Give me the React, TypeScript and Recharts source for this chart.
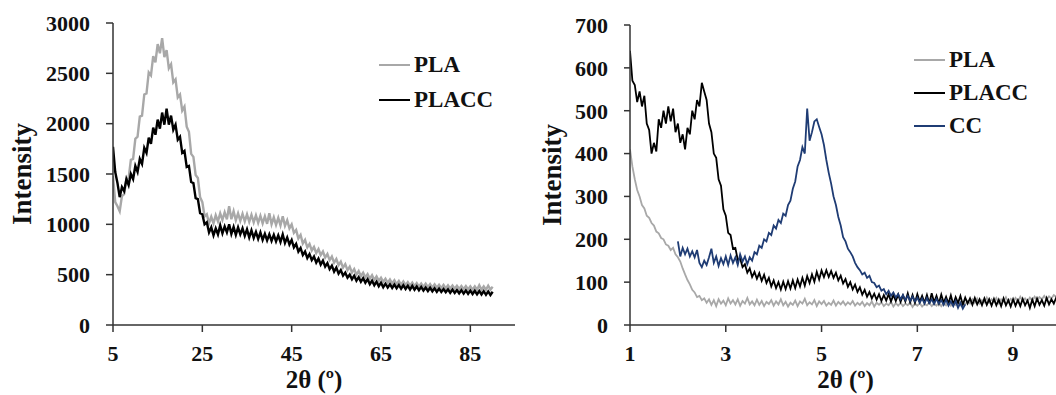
import React from 'react';
import { LineChart, Line, XAxis, YAxis, Legend } from 'recharts';

const FONT = '"Liberation Serif", "Times New Roman", serif';

// ---------- Panel (a): 2θ from 5 to 90, sampled every 0.5 ----------
const A_X_START = 5;
const A_X_STEP = 0.5;
const aPLA = [
  1480, 1220, 1180, 1130, 1280, 1300, 1450, 1460, 1640, 1650,
  1850, 1870, 2070, 2080, 2290, 2300, 2510, 2480, 2670, 2610,
  2790, 2700, 2850, 2660, 2730, 2550, 2590, 2410, 2440, 2260,
  2290, 2130, 2170, 1970, 1920, 1700, 1670, 1490, 1460, 1270,
  1220, 1080, 1100, 1010, 1075, 1010, 1090, 1030, 1110, 1045,
  1120, 1050, 1180, 1050, 1130, 1040, 1110, 1035, 1105, 1030,
  1100, 1025, 1095, 1020, 1090, 1015, 1085, 1010, 1080, 1005,
  1110, 1000, 1070, 995, 1065, 990, 1080, 985, 1040, 960,
  1000, 915, 945, 860, 895, 810, 845, 770, 805, 740,
  775, 715, 755, 695, 730, 670, 705, 645, 680, 620,
  655, 595, 630, 570, 605, 545, 580, 520, 555, 500,
  535, 485, 520, 472, 505, 460, 495, 448, 482, 438,
  470, 428, 460, 420, 452, 412, 445, 405, 438, 400,
  432, 395, 425, 390, 420, 385, 416, 382, 412, 378,
  410, 375, 406, 372, 403, 370, 400, 366, 398, 364,
  395, 362, 392, 360, 390, 358, 388, 356, 386, 354,
  385, 352, 384, 350, 395, 350, 384, 350, 390, 352,
  380,
];
const aPLACC = [
  1770, 1520, 1410, 1270, 1370, 1330, 1450, 1390, 1500, 1450,
  1580, 1520, 1650, 1600, 1760, 1710, 1860, 1800, 1960, 1890,
  2040, 1950, 2110, 1990, 2150, 1990, 2080, 1940, 1990, 1840,
  1870, 1710, 1730, 1570, 1580, 1420, 1410, 1260, 1250, 1110,
  1100, 1000, 1020, 920, 970, 890, 960, 900, 990, 910,
  980, 920, 1000, 905, 975, 895, 970, 900, 960, 885,
  950, 870, 940, 865, 925, 855, 920, 845, 905, 840,
  900, 835, 895, 830, 890, 825, 900, 815, 870, 800,
  845, 770, 805, 730, 765, 695, 730, 665, 705, 645,
  680, 620, 660, 600, 640, 580, 615, 555, 590, 530,
  570, 510, 545, 490, 520, 470, 500, 455, 490, 440,
  475, 430, 465, 420, 455, 405, 440, 395, 430, 385,
  420, 375, 410, 372, 405, 368, 402, 365, 398, 360,
  395, 358, 390, 352, 388, 350, 382, 345, 378, 342,
  372, 338, 370, 335, 365, 330, 362, 328, 358, 325,
  355, 320, 352, 318, 348, 315, 346, 312, 344, 310,
  342, 308, 340, 305, 338, 303, 336, 300, 334, 298,
  330,
];
const aXTicks = [5, 25, 45, 65, 85];
const aYTicks = [0, 500, 1000, 1500, 2000, 2500, 3000];

// ---------- Panel (b): 2θ from 1 to 10, sampled every 0.05 ----------
const B_X_START = 1;
const B_X_STEP = 0.05;
const bPLA = [
  410, 370, 340, 315, 300, 280, 272, 255, 250, 238,
  232, 218, 214, 203, 200, 188, 185, 175, 180, 165,
  158, 148, 132, 118, 105, 95, 82, 76, 65, 68,
  58, 62, 52, 60, 47, 58, 44, 60, 50, 57,
  46, 62, 50, 58, 48, 60, 45, 56, 50, 63,
  48, 55, 46, 59, 47, 56, 44, 54, 49, 58,
  45, 55, 48, 60, 46, 54, 43, 52, 47, 57,
  44, 55, 50, 61, 46, 53, 48, 58, 44, 55,
  49, 56, 45, 52, 47, 57, 45, 54, 48, 55,
  46, 53, 48, 56, 45, 52, 47, 54, 44, 51,
  46, 55, 43, 52, 47, 53, 44, 50, 46, 54,
  43, 51, 45, 52, 44, 50, 46, 53, 42, 50,
  45, 51, 43, 49, 46, 52, 44, 50, 45, 53,
  44, 51, 46, 54, 45, 52, 47, 55, 46, 53,
  48, 56, 50, 60, 52, 62, 50, 58, 53, 64,
  52, 60, 54, 63, 51, 60, 55, 65, 53, 61,
  55, 63, 54, 66, 56, 62, 55, 64, 57, 66,
  58, 65, 60, 68, 59, 67, 62, 70, 66, 75,
  95,
];
const bPLACC = [
  640, 570, 560, 520, 545, 510, 535, 470, 455, 400,
  425, 405, 480, 460, 500, 470, 510, 475, 505, 450,
  470, 425, 445, 410, 460, 445, 500, 480, 525, 510,
  565, 545, 525, 470, 450, 400, 390, 340, 325, 270,
  255, 215, 210, 178, 180, 152, 155, 135, 142, 122,
  132, 112, 124, 108, 121, 103, 117, 98, 110, 90,
  104, 86, 100, 83, 101, 84, 102, 85, 104, 86,
  106, 90, 110, 92, 114, 98, 118, 101, 124, 106,
  127, 112, 128, 112, 126, 110, 122, 104, 115, 97,
  107, 89, 100, 83, 94, 77, 88, 71, 82, 66,
  77, 62, 73, 59, 72, 56, 70, 57, 72, 55,
  70, 56, 71, 54, 69, 55, 74, 53, 70, 52,
  72, 54, 68, 52, 70, 50, 74, 53, 68, 50,
  71, 52, 66, 50, 69, 48, 65, 51, 68, 47,
  64, 50, 62, 47, 63, 48, 60, 46, 62, 47,
  60, 45, 61, 46, 59, 44, 62, 46, 58, 43,
  60, 45, 58, 44, 61, 46, 57, 40, 59, 44,
  62, 47, 58, 45, 63, 48, 60, 50, 64, 52,
  62,
];
const CC_X_START = 2;
const bCC = [
  195, 160, 180, 165, 178, 160, 172, 158, 175, 145,
  135, 150, 140, 158, 178, 145, 160, 138, 156, 142,
  160, 140, 162, 145, 158, 140, 165, 148, 160, 142,
  158, 150, 170, 165, 185, 180, 200, 195, 215, 210,
  232, 225, 245, 238, 260, 255, 280, 290, 318, 335,
  370, 385, 415, 400, 505, 430, 450, 475, 480, 462,
  445, 420, 385, 355, 330, 300, 280, 252, 232, 205,
  195, 178, 170, 160, 145, 135, 128, 118, 122, 110,
  115, 100, 98, 88, 92, 80, 84, 72, 80, 68,
  76, 64, 72, 60, 70, 58, 68, 56, 66, 55,
  64, 52, 62, 50, 63, 51, 60, 49, 61, 50,
  58, 47, 59, 45, 55, 44, 56, 40, 52, 38,
  48,
];
const bXTicks = [1, 3, 5, 7, 9];
const bYTicks = [0, 100, 200, 300, 400, 500, 600, 700];

const SERIES_ORDER = ['PLA', 'PLACC', 'CC'];

const toPoints = (start: number, step: number, values: number[]) =>
  values.map((v, i) => ({ x: Math.round((start + i * step) * 1000) / 1000, y: v }));

const aPLAData = toPoints(A_X_START, A_X_STEP, aPLA);
const aPLACCData = toPoints(A_X_START, A_X_STEP, aPLACC);
const bPLAData = toPoints(B_X_START, B_X_STEP, bPLA);
const bPLACCData = toPoints(B_X_START, B_X_STEP, bPLACC);
const bCCData = toPoints(CC_X_START, B_X_STEP, bCC);

const COLORS = { PLA: '#a8a8a8', PLACC: '#000000', CC: '#1f3c74' };
const AXIS_COLOR = '#333333';

const tickStyle = { fill: '#111', fontSize: 22, fontFamily: FONT, fontWeight: 700 };

const makeLegend = (rowH: number) => (props: any) => {
  const items = [...(props.payload || [])].sort(
    (a: any, b: any) => SERIES_ORDER.indexOf(a.value) - SERIES_ORDER.indexOf(b.value)
  );
  return (
    <div style={{ fontFamily: FONT, fontWeight: 700, fontSize: 23, color: '#111' }}>
      {items.map((e: any) => (
        <div key={e.value} style={{ display: 'flex', alignItems: 'center', height: rowH, whiteSpace: 'nowrap' }}>
          <span style={{ display: 'inline-block', width: 31, height: 2, background: e.color, marginRight: 4 }} />
          <span>{e.value}</span>
        </div>
      ))}
    </div>
  );
};

const yLabel = (props: any) => {
  const vb = props.viewBox || { x: 0, y: 0, width: 0, height: 0 };
  const x = vb.x + 31;
  const y = vb.y + vb.height / 2;
  return (
    <text x={x} y={y} transform={`rotate(-90, ${x}, ${y})`} textAnchor="middle" fill="#111"
      style={{ fontFamily: FONT, fontWeight: 700, fontSize: 27 }}>Intensity</text>
  );
};

const xLabel = (props: any) => {
  const vb = props.viewBox || { x: 0, y: 0, width: 0, height: 0 };
  return (
    <text x={vb.x + vb.width / 2} y={vb.y + 63} textAnchor="middle" fill="#111"
      style={{ fontFamily: FONT, fontWeight: 700, fontSize: 25 }}>2θ (º)</text>
  );
};

const panelLabel = (txt: string, dx: number, dy: number) => (props: any) => {
  const vb = props.viewBox || { x: 0, y: 0 };
  return (
    <text x={vb.x + dx} y={vb.y + dy} fill="#111"
      style={{ fontFamily: FONT, fontWeight: 700, fontSize: 22 }}>{txt}</text>
  );
};

export default function App() {
  return (
    <div style={{ position: 'fixed', left: 0, top: 0, width: 1056, height: 395, overflow: 'hidden', background: '#fff' }}>
      <div style={{ position: 'absolute', left: 0, top: 0 }}>
        <LineChart width={525} height={395} margin={{ top: 23, right: 10, bottom: 20, left: 0 }}>
          <XAxis dataKey="x" type="number" domain={[5, 95]} ticks={aXTicks} allowDataOverflow
            height={50} tick={tickStyle} tickSize={7} tickMargin={13}
            axisLine={{ stroke: AXIS_COLOR, strokeWidth: 1.5 }} tickLine={{ stroke: AXIS_COLOR, strokeWidth: 1.5 }}
            label={{ content: xLabel }} />
          <XAxis xAxisId="top" orientation="top" dataKey="x" type="number" domain={[5, 95]} height={0}
            tick={false} tickLine={false} axisLine={{ stroke: '#555', strokeWidth: 1.5 }}
            label={{ content: panelLabel('(a)', 3, 27) }} />
          <YAxis type="number" domain={[0, 3000]} ticks={aYTicks} allowDataOverflow width={113}
            tick={tickStyle} tickSize={7} tickMargin={16}
            axisLine={{ stroke: AXIS_COLOR, strokeWidth: 1.5 }} tickLine={{ stroke: AXIS_COLOR, strokeWidth: 1.5 }}
            label={{ content: yLabel }} />
          <YAxis yAxisId="right" orientation="right" type="number" domain={[0, 3000]} width={0}
            tick={false} tickLine={false} axisLine={{ stroke: '#555', strokeWidth: 1.5 }} />
          <Legend layout="vertical" align="center" verticalAlign="middle"
            wrapperStyle={{ left: 379, top: 47, width: 'auto', height: 'auto' }}
            content={makeLegend(35)} />
          <Line data={aPLAData} dataKey="y" name="PLA" stroke={COLORS.PLA} strokeWidth={2.4}
            dot={false} activeDot={false} isAnimationActive={false} />
          <Line data={aPLACCData} dataKey="y" name="PLACC" stroke={COLORS.PLACC} strokeWidth={2.4}
            dot={false} activeDot={false} isAnimationActive={false} />
        </LineChart>
      </div>
      <div style={{ position: 'absolute', left: 530, top: 0 }}>
        <LineChart width={541} height={395} margin={{ top: 25, right: 10, bottom: 20, left: 0 }}>
          <XAxis dataKey="x" type="number" domain={[1, 10]} ticks={bXTicks} allowDataOverflow
            height={50} tick={tickStyle} tickSize={7} tickMargin={13}
            axisLine={{ stroke: AXIS_COLOR, strokeWidth: 1.5 }} tickLine={{ stroke: AXIS_COLOR, strokeWidth: 1.5 }}
            label={{ content: xLabel }} />
          <XAxis xAxisId="top" orientation="top" dataKey="x" type="number" domain={[1, 10]} height={0}
            tick={false} tickLine={false} axisLine={{ stroke: '#555', strokeWidth: 1.5 }}
            label={{ content: panelLabel('(b)', 6, 29) }} />
          <YAxis type="number" domain={[0, 700]} ticks={bYTicks} allowDataOverflow width={100}
            tick={tickStyle} tickSize={6} tickMargin={16}
            axisLine={{ stroke: AXIS_COLOR, strokeWidth: 1.5 }} tickLine={{ stroke: AXIS_COLOR, strokeWidth: 1.5 }}
            label={{ content: yLabel }} />
          <YAxis yAxisId="right" orientation="right" type="number" domain={[0, 700]} width={0}
            tick={false} tickLine={false} axisLine={{ stroke: '#555', strokeWidth: 1.5 }} />
          <Legend layout="vertical" align="center" verticalAlign="middle"
            wrapperStyle={{ left: 384, top: 43, width: 'auto', height: 'auto' }}
            content={makeLegend(33)} />
          <Line data={bPLAData} dataKey="y" name="PLA" stroke={COLORS.PLA} strokeWidth={1.8}
            dot={false} activeDot={false} isAnimationActive={false} />
          <Line data={bPLACCData} dataKey="y" name="PLACC" stroke={COLORS.PLACC} strokeWidth={1.8}
            dot={false} activeDot={false} isAnimationActive={false} />
          <Line data={bCCData} dataKey="y" name="CC" stroke={COLORS.CC} strokeWidth={1.8}
            dot={false} activeDot={false} isAnimationActive={false} />
        </LineChart>
      </div>
    </div>
  );
}
